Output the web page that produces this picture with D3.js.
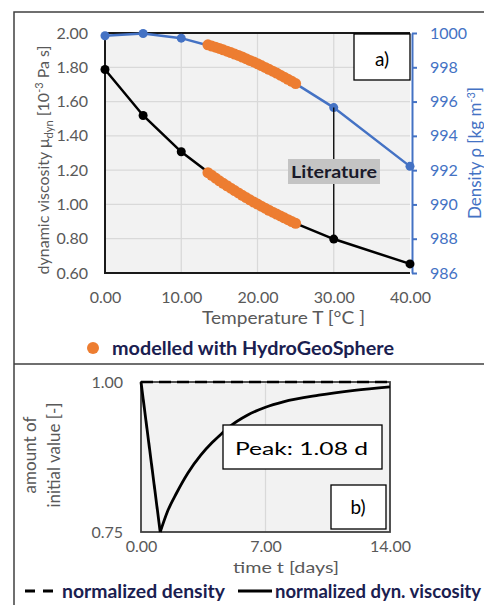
<!DOCTYPE html>
<html><head><meta charset="utf-8">
<script src="https://cdn.jsdelivr.net/npm/d3@7"></script>
<style>
html,body{margin:0;padding:0;background:#fff;}
svg{display:block;font-family:Lato,"Open Sans",sans-serif;}
</style></head>
<body>
<svg id="c" width="484" height="605"></svg>
<script>
// ---------- Data: panel a ----------
const litTemp = [0, 5, 10, 15, 20, 25, 30, 40];
const litViscosity = [1.787, 1.519, 1.307, 1.138, 1.002, 0.890, 0.798, 0.653];
const litDensity = [999.84, 999.97, 999.70, 999.10, 998.21, 997.05, 995.65, 992.22];

const modTemp = [13.5, 14, 14.5, 15, 15.5, 16, 16.5, 17, 17.5, 18, 18.5, 19, 19.5, 20, 20.5, 21, 21.5, 22, 22.5, 23, 23.5, 24, 24.5, 25];
const modViscosity = [1.185, 1.170, 1.154, 1.138, 1.123, 1.109, 1.095, 1.081, 1.067, 1.053, 1.040, 1.027, 1.014, 1.002, 0.990, 0.978, 0.966, 0.955, 0.944, 0.933, 0.922, 0.911, 0.900, 0.890];
const modDensity = [999.31, 999.24, 999.17, 999.10, 999.02, 998.94, 998.86, 998.77, 998.69, 998.60, 998.50, 998.40, 998.31, 998.21, 998.10, 997.99, 997.88, 997.77, 997.66, 997.54, 997.42, 997.30, 997.18, 997.05];

const tempTicks = [0, 10, 20, 30, 40];
const viscTicks = [0.6, 0.8, 1.0, 1.2, 1.4, 1.6, 1.8, 2.0];
const densTicks = [986, 988, 990, 992, 994, 996, 998, 1000];

// ---------- Data: panel b ----------
const dropDays = [0, 1.08];
const dropVisc = [1.0, 0.75];
const recoveryDays = [1.08, 1.5, 2.0, 2.63, 3.36, 4.0, 4.5, 5.0, 6.0, 7.0, 8.0, 10.0, 12.0, 14.0];
const recoveryVisc = [0.75, 0.785, 0.815, 0.848, 0.878, 0.899, 0.913, 0.926, 0.945, 0.958, 0.967, 0.978, 0.986, 0.992];
const normDensityTime = [0, 14];
const normDensity = [1.0, 1.0];
const timeTicks = [0, 7, 14];
const normTicks = [0.75, 1.0];

const svg = d3.select("#c");
const blue = "#4472c4", orange = "#ed7d31", grey = "#595959", legendCol = "#1a2050";

svg.append("path").attr("d","M14,605V12H484M14,364H484").attr("fill","none").attr("stroke","#404040").attr("stroke-width",1.5);

// ================= Panel a =================
const ax = {l:105, r:410, t:33, b:273};
const x = d3.scaleLinear().domain([0,40]).range([ax.l, ax.r]);
const yV = d3.scaleLinear().domain([0.6,2.0]).range([ax.b, ax.t]);
const yD = d3.scaleLinear().domain([986,1000]).range([ax.b, ax.t]);

const ga = svg.append("g");
ga.append("rect").attr("x",ax.l).attr("y",ax.t).attr("width",ax.r-ax.l).attr("height",ax.b-ax.t).attr("fill","#f2f2f2");
ga.selectAll(".hg").data(viscTicks.slice(1,-1)).join("line")
  .attr("x1",ax.l).attr("x2",ax.r).attr("y1",d=>yV(d)).attr("y2",d=>yV(d))
  .attr("stroke","#d9d9d9").attr("stroke-width",1.3);
ga.selectAll(".vg").data(tempTicks.slice(1,-1)).join("line")
  .attr("y1",ax.t).attr("y2",ax.b).attr("x1",d=>x(d)).attr("x2",d=>x(d))
  .attr("stroke","#d9d9d9").attr("stroke-width",1.3);
ga.append("path").attr("d",`M${ax.r},${ax.t}H${ax.l}V${ax.b}H${ax.r}`).attr("fill","none").attr("stroke","#1a1a1a").attr("stroke-width",2);

const fmt = d3.format(".2f");
const axL = ga.append("g").attr("transform",`translate(${ax.l},0)`)
  .call(d3.axisLeft(yV).tickValues(viscTicks).tickFormat(fmt).tickSize(0).tickPadding(17));
axL.select(".domain").remove();
axL.selectAll("text").attr("fill",grey).style("font-size","16px").style("font-family","Lato");

const axB = ga.append("g").attr("transform",`translate(0,${ax.b})`)
  .call(d3.axisBottom(x).tickValues(tempTicks).tickFormat(fmt).tickSize(0).tickPadding(19));
axB.select(".domain").remove();
axB.selectAll("text").attr("fill",grey).style("font-size","16px").style("font-family","Lato");

const axR = ga.append("g").attr("transform",`translate(${ax.r+2},0)`)
  .call(d3.axisRight(yD).tickValues(densTicks).tickFormat(d3.format("d")).tickSize(5).tickSizeOuter(0).tickPadding(13));
axR.select(".domain").attr("stroke",blue).attr("stroke-width",2);
axR.selectAll("line").attr("stroke",blue).attr("stroke-width",2);
axR.selectAll("text").attr("fill",blue).style("font-size","16px").style("font-family","Lato");

const lineD = d3.line().x((d,i)=>x(litTemp[i])).y(d=>yD(d));
const lineV = d3.line().x((d,i)=>x(litTemp[i])).y(d=>yV(d));
ga.append("path").attr("d",lineD(litDensity)).attr("fill","none").attr("stroke",blue).attr("stroke-width",2.5);
ga.append("path").attr("d",lineV(litViscosity)).attr("fill","none").attr("stroke","#000").attr("stroke-width",2.5);
ga.selectAll(".pd").data(litDensity).join("circle").attr("cx",(d,i)=>x(litTemp[i])).attr("cy",d=>yD(d)).attr("r",4.5).attr("fill",blue);
ga.selectAll(".pv").data(litViscosity).join("circle").attr("cx",(d,i)=>x(litTemp[i])).attr("cy",d=>yV(d)).attr("r",4.5).attr("fill","#000");

const lx = x(30);
const lab = {x:288, y:159, w:92, h:25};
ga.append("line").attr("x1",lx).attr("x2",lx).attr("y1",yD(litDensity[6])).attr("y2",lab.y).attr("stroke","#000").attr("stroke-width",1.3);
ga.append("line").attr("x1",lx).attr("x2",lx).attr("y1",lab.y+lab.h).attr("y2",yV(litViscosity[6])).attr("stroke","#000").attr("stroke-width",1.3);

ga.selectAll(".md").data(modDensity).join("circle").attr("cx",(d,i)=>x(modTemp[i])).attr("cy",d=>yD(d)).attr("r",5.5).attr("fill",orange);
ga.selectAll(".mv").data(modViscosity).join("circle").attr("cx",(d,i)=>x(modTemp[i])).attr("cy",d=>yV(d)).attr("r",5.5).attr("fill",orange);

ga.append("rect").attr("x",lab.x).attr("y",lab.y).attr("width",lab.w).attr("height",lab.h).attr("fill","#c4c4c4");
ga.append("text").attr("x",lab.x+3).attr("y",lab.y+18.5)
  .attr("font-weight","bold").attr("font-size","17px").attr("fill","#1a1a2a")
  .attr("textLength",86).attr("lengthAdjust","spacingAndGlyphs").text("Literature");

ga.append("rect").attr("x",354).attr("y",34).attr("width",56).attr("height",46).attr("fill","#fff").attr("stroke","#000").attr("stroke-width",1.3);
ga.append("text").attr("x",382).attr("y",66).attr("text-anchor","middle").attr("font-size","19px").attr("fill","#000").text("a)");

ga.append("text").attr("x",202).attr("y",324).attr("font-size","17px").attr("fill",grey)
  .attr("textLength",163).attr("lengthAdjust","spacingAndGlyphs").text("Temperature T [°C ]");
const tl = ga.append("text").attr("transform","translate(49,160) rotate(-90)").attr("text-anchor","middle").attr("font-size","16px").attr("fill",grey);
tl.append("tspan").text("dynamic viscosity μ");
tl.append("tspan").attr("font-size","11px").attr("dy",4).text("dyn");
tl.append("tspan").attr("dy",-4).text(" [10");
tl.append("tspan").attr("font-size","11px").attr("dy",-6).text("-3");
tl.append("tspan").attr("dy",6).text(" Pa s]");
const tr = ga.append("text").attr("transform","translate(481,153) rotate(-90)").attr("text-anchor","middle").attr("font-size","17px").attr("fill",blue);
tr.append("tspan").text("Density ρ [kg m");
tr.append("tspan").attr("font-size","11px").attr("dy",-6).text("-3");
tr.append("tspan").attr("dy",6).text("]");

ga.append("circle").attr("cx",93).attr("cy",348).attr("r",6).attr("fill",orange);
ga.append("text").attr("x",112).attr("y",355).attr("font-size","18px").attr("font-weight","bold").attr("fill",legendCol)
  .attr("textLength",282).attr("lengthAdjust","spacingAndGlyphs").text("modelled with HydroGeoSphere");

// ================= Panel b =================
const bx = {l:141, r:390, t:382, b:532};
const xt = d3.scaleLinear().domain([0,14]).range([bx.l,bx.r]);
const yn = d3.scaleLinear().domain([0.75,1.0]).range([bx.b,bx.t]);
const gb = svg.append("g");
gb.append("rect").attr("x",bx.l).attr("y",bx.t).attr("width",bx.r-bx.l).attr("height",bx.b-bx.t).attr("fill","#f2f2f2");
gb.selectAll(".vg").data(timeTicks.slice(1,-1)).join("line").attr("x1",d=>xt(d)).attr("x2",d=>xt(d)).attr("y1",bx.t).attr("y2",bx.b).attr("stroke","#d9d9d9").attr("stroke-width",1.3);
gb.append("rect").attr("x",bx.l).attr("y",bx.t).attr("width",bx.r-bx.l).attr("height",bx.b-bx.t).attr("fill","none").attr("stroke","#404040").attr("stroke-width",1.8);

const bL = gb.append("g").attr("transform",`translate(${bx.l},0)`)
  .call(d3.axisLeft(yn).tickValues(normTicks).tickFormat(fmt).tickSize(0).tickPadding(18));
bL.select(".domain").remove();
bL.selectAll("text").attr("fill",grey).style("font-size","16px").style("font-family","Lato");
const bB = gb.append("g").attr("transform",`translate(0,${bx.b})`)
  .call(d3.axisBottom(xt).tickValues(timeTicks).tickFormat(fmt).tickSize(0).tickPadding(9));
bB.select(".domain").remove();
bB.selectAll("text").attr("fill",grey).style("font-size","16px").style("font-family","Lato");

gb.append("path").attr("d",d3.line().x((d,i)=>xt(normDensityTime[i])).y(d=>yn(d))(normDensity))
  .attr("fill","none").attr("stroke","#000").attr("stroke-width",2.5).attr("stroke-dasharray","12,6");
gb.append("path").attr("d",d3.line().x((d,i)=>xt(dropDays[i])).y(d=>yn(d))(dropVisc))
  .attr("fill","none").attr("stroke","#000").attr("stroke-width",2.8);
gb.append("path").attr("d",d3.line().curve(d3.curveMonotoneX).x((d,i)=>xt(recoveryDays[i])).y(d=>yn(d))(recoveryVisc))
  .attr("fill","none").attr("stroke","#000").attr("stroke-width",2.8);

gb.append("rect").attr("x",223).attr("y",425).attr("width",159).attr("height",44).attr("fill","#fff").attr("stroke","#000").attr("stroke-width",1.3);
gb.append("text").attr("x",235).attr("y",455).attr("font-size","18px").attr("fill","#000")
  .attr("textLength",133).attr("lengthAdjust","spacingAndGlyphs").text("Peak: 1.08 d");
gb.append("rect").attr("x",331).attr("y",485).attr("width",55).attr("height",44).attr("fill","#fff").attr("stroke","#000").attr("stroke-width",1.3);
gb.append("text").attr("x",358).attr("y",514).attr("text-anchor","middle").attr("font-size","19px").attr("fill","#000").text("b)");

gb.append("text").attr("x",233).attr("y",573).attr("font-size","16px").attr("fill",grey)
  .attr("textLength",106).attr("lengthAdjust","spacingAndGlyphs").text("time t [days]");
const bt = gb.append("text").attr("transform","translate(0,455) rotate(-90)").attr("text-anchor","middle").attr("font-size","17px").attr("fill",grey);
bt.append("tspan").attr("x",0).attr("y",36).text("amount of");
bt.append("tspan").attr("x",0).attr("y",60).text("initial value [-]");

gb.append("line").attr("x1",25).attr("x2",53).attr("y1",591).attr("y2",591).attr("stroke","#000").attr("stroke-width",2.8).attr("stroke-dasharray","10,8");
gb.append("text").attr("x",62).attr("y",598).attr("font-size","18px").attr("font-weight","bold").attr("fill",legendCol)
  .attr("textLength",163).attr("lengthAdjust","spacingAndGlyphs").text("normalized density");
gb.append("line").attr("x1",238).attr("x2",272).attr("y1",591).attr("y2",591).attr("stroke","#000").attr("stroke-width",2.8);
gb.append("text").attr("x",275).attr("y",598).attr("font-size","18px").attr("font-weight","bold").attr("fill",legendCol)
  .attr("textLength",206).attr("lengthAdjust","spacingAndGlyphs").text("normalized dyn. viscosity");
</script>
</body></html>
